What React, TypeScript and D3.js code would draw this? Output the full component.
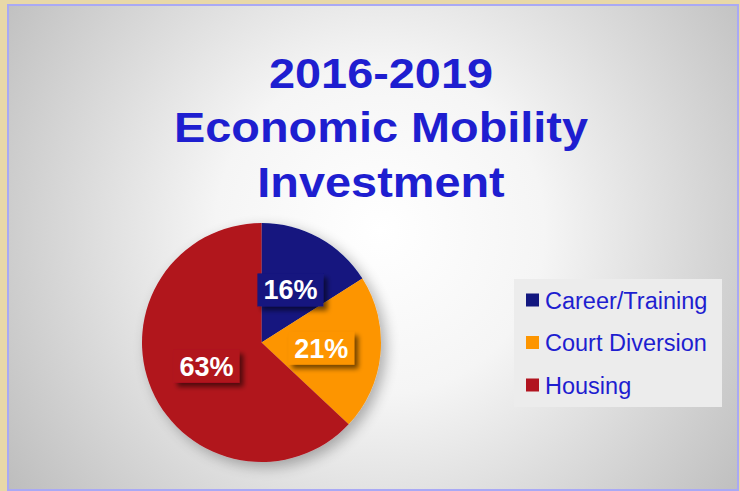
import * as d3 from 'd3';

// chart values
const categories = ['Career/Training', 'Court Diversion', 'Housing'];
const shares = [16, 21, 63];
const sliceColors = ['#12177f', '#fd9500', '#b1141f'];
const titleLines = ['2016-2019', 'Economic Mobility', 'Investment'];

const width = 740;
const height = 491;
const textBlue = '#1e1ed0';
const font = '"Liberation Sans", Arial, sans-serif';

const App = () => {
  const cx = 261.5;
  const cy = 342.5;
  const radius = 119.5;

  // pie starts at 12 o'clock and goes clockwise, in data order
  const pieLayout = d3
    .pie<number>()
    .sort(null)
    .value((d) => d);
  const arcs = pieLayout(shares);

  const arcPath = d3.arc<d3.PieArcDatum<number>>().innerRadius(0).outerRadius(radius);
  const labelArc = d3.arc<d3.PieArcDatum<number>>().innerRadius(0).outerRadius(120);

  // legend rows
  const legendY = d3.scalePoint<string>().domain(categories).range([300, 385]);

  return (
    <svg
      width={width}
      height={height}
      style={{ position: 'absolute', left: 0, top: 0 }}
    >
      <defs>
        <radialGradient id="bg" cx="380" cy="230" r="470" gradientUnits="userSpaceOnUse">
          <stop offset="0" stopColor="#ffffff" />
          <stop offset="0.35" stopColor="#f5f5f5" />
          <stop offset="1" stopColor="#bababa" />
        </radialGradient>
        <filter id="pieShadow" x="-30%" y="-30%" width="160%" height="160%">
          <feGaussianBlur in="SourceAlpha" stdDeviation="7" />
          <feOffset dx="5" dy="5" result="blur" />
          <feComponentTransfer>
            <feFuncA type="linear" slope="0.3" />
          </feComponentTransfer>
          <feMerge>
            <feMergeNode />
            <feMergeNode in="SourceGraphic" />
          </feMerge>
        </filter>
        <filter id="boxShadow" x="-30%" y="-30%" width="170%" height="180%">
          <feGaussianBlur in="SourceAlpha" stdDeviation="2.5" />
          <feOffset dx="4" dy="4" />
          <feComponentTransfer>
            <feFuncA type="linear" slope="0.55" />
          </feComponentTransfer>
          <feMerge>
            <feMergeNode />
            <feMergeNode in="SourceGraphic" />
          </feMerge>
        </filter>
      </defs>

      {/* slide frame */}
      <rect x={0} y={0} width={width} height={height} fill="#e8d8a8" />
      <rect
        x={8}
        y={5}
        width={730}
        height={485}
        fill="url(#bg)"
        stroke="#a9a9f5"
        strokeWidth={2}
      />

      {/* title */}
      <g transform="translate(381,0) scale(1.09,1)">
        {titleLines.map((line, i) => (
          <text
            key={line}
            x={0}
            y={88 + i * 54.3}
            textAnchor="middle"
            fontFamily={font}
            fontWeight="bold"
            fontSize={43}
            fill={textBlue}
          >
            {line}
          </text>
        ))}
      </g>

      {/* pie */}
      <g transform={`translate(${cx},${cy})`}>
        <g filter="url(#pieShadow)">
          {arcs.map((a, i) => (
            <path key={categories[i]} d={arcPath(a) ?? ''} fill={sliceColors[i]} />
          ))}
        </g>
        {arcs.map((a, i) => {
          const [lx, ly] = labelArc.centroid(a);
          const boxW = 66;
          const boxH = 33;
          return (
            <g key={categories[i]} transform={`translate(${lx},${ly})`}>
              <rect
                x={-boxW / 2}
                y={-boxH / 2}
                width={boxW}
                height={boxH}
                fill={sliceColors[i]}
                filter="url(#boxShadow)"
              />
              <text
                x={0}
                y={9.5}
                textAnchor="middle"
                fontFamily={font}
                fontWeight="bold"
                fontSize={27}
                fill="#ffffff"
              >
                {`${shares[i]}%`}
              </text>
            </g>
          );
        })}
      </g>

      {/* legend */}
      <rect x={514} y={279} width={208} height={128} fill="#ececec" />
      {categories.map((c, i) => {
        const y = legendY(c) ?? 0;
        return (
          <g key={c}>
            <rect x={526} y={y - 6.5} width={13} height={13} fill={sliceColors[i]} />
            <text
              x={545}
              y={y + 8.5}
              fontFamily={font}
              fontSize={23.5}
              fill={textBlue}
            >
              {c}
            </text>
          </g>
        );
      })}
    </svg>
  );
};

export default App;
